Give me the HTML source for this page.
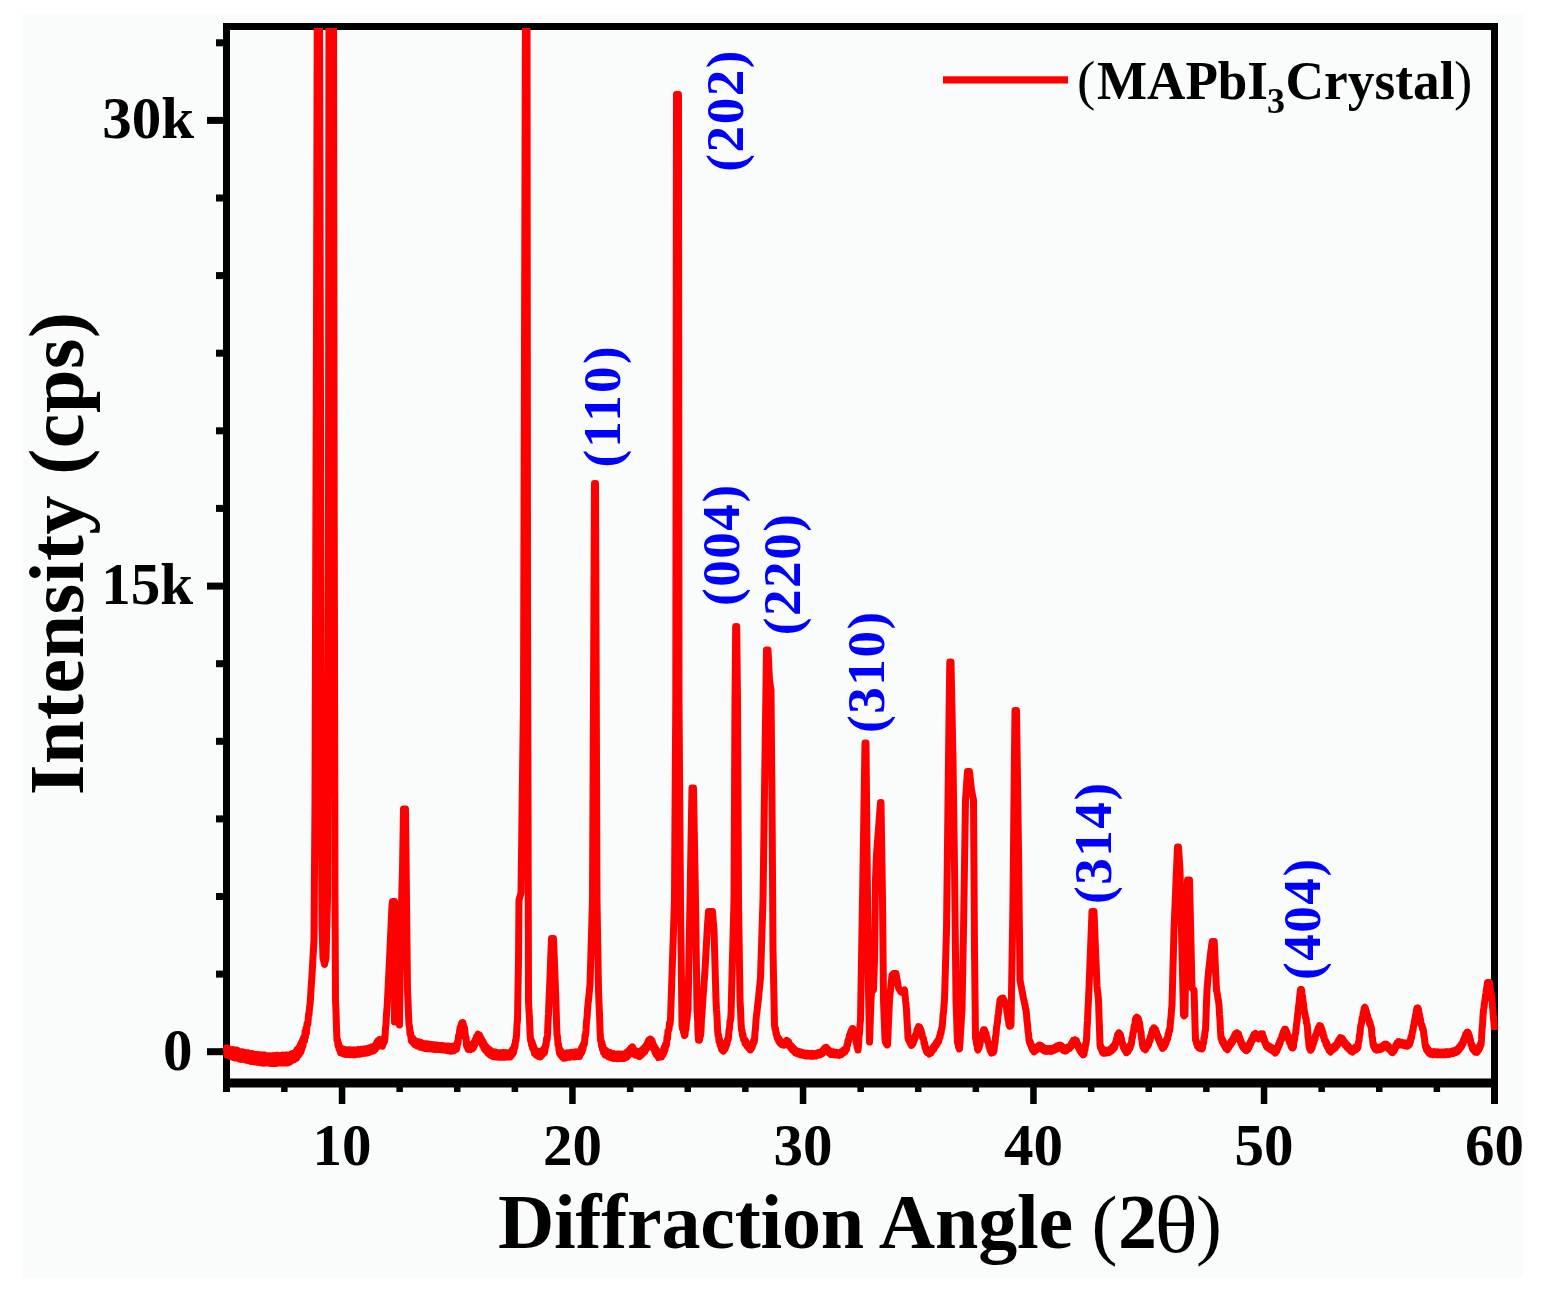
<!DOCTYPE html>
<html><head><meta charset="utf-8"><title>XRD MAPbI3 Crystal</title>
<style>html,body{margin:0;padding:0;background:#fff;overflow:hidden;}svg{display:block;}</style>
</head><body>
<svg width="1544" height="1296" viewBox="0 0 1544 1296"><rect x="0" y="0" width="1544" height="1296" fill="#fff"/>
<rect x="22" y="14" width="1501" height="1264" fill="#fafbfb"/>
<rect x="223" y="23" width="7" height="1069" fill="#000"/>
<rect x="223" y="23" width="1275" height="7" fill="#000"/>
<rect x="1491" y="23" width="7" height="1081" fill="#000"/>
<rect x="223" y="1078.5" width="1275" height="9" fill="#000"/>
<rect x="207" y="1048.2" width="16" height="7" fill="#000"/>
<rect x="216" y="970.6" width="7" height="7" fill="#000"/>
<rect x="216" y="893.0" width="7" height="7" fill="#000"/>
<rect x="216" y="815.4" width="7" height="7" fill="#000"/>
<rect x="216" y="737.8" width="7" height="7" fill="#000"/>
<rect x="216" y="660.2" width="7" height="7" fill="#000"/>
<rect x="207" y="582.6" width="16" height="7" fill="#000"/>
<rect x="216" y="504.9" width="7" height="7" fill="#000"/>
<rect x="216" y="427.3" width="7" height="7" fill="#000"/>
<rect x="216" y="349.7" width="7" height="7" fill="#000"/>
<rect x="216" y="272.1" width="7" height="7" fill="#000"/>
<rect x="216" y="194.5" width="7" height="7" fill="#000"/>
<rect x="207" y="116.9" width="16" height="7" fill="#000"/>
<rect x="216" y="39.3" width="7" height="7" fill="#000"/>
<rect x="223.5" y="1087" width="6.5" height="5" fill="#000"/>
<rect x="281.1" y="1087" width="6.5" height="5" fill="#000"/>
<rect x="338.8" y="1087" width="6.5" height="17" fill="#000"/>
<rect x="396.4" y="1087" width="6.5" height="5" fill="#000"/>
<rect x="454.0" y="1087" width="6.5" height="5" fill="#000"/>
<rect x="511.6" y="1087" width="6.5" height="5" fill="#000"/>
<rect x="569.2" y="1087" width="6.5" height="17" fill="#000"/>
<rect x="626.9" y="1087" width="6.5" height="5" fill="#000"/>
<rect x="684.5" y="1087" width="6.5" height="5" fill="#000"/>
<rect x="742.1" y="1087" width="6.5" height="5" fill="#000"/>
<rect x="799.8" y="1087" width="6.5" height="17" fill="#000"/>
<rect x="857.4" y="1087" width="6.5" height="5" fill="#000"/>
<rect x="915.0" y="1087" width="6.5" height="5" fill="#000"/>
<rect x="972.6" y="1087" width="6.5" height="5" fill="#000"/>
<rect x="1030.2" y="1087" width="6.5" height="17" fill="#000"/>
<rect x="1087.9" y="1087" width="6.5" height="5" fill="#000"/>
<rect x="1145.5" y="1087" width="6.5" height="5" fill="#000"/>
<rect x="1203.1" y="1087" width="6.5" height="5" fill="#000"/>
<rect x="1260.8" y="1087" width="6.5" height="17" fill="#000"/>
<rect x="1318.4" y="1087" width="6.5" height="5" fill="#000"/>
<rect x="1376.0" y="1087" width="6.5" height="5" fill="#000"/>
<rect x="1433.6" y="1087" width="6.5" height="5" fill="#000"/>
<rect x="1491.2" y="1087" width="6.5" height="17" fill="#000"/>
<defs><clipPath id="c"><rect x="0" y="28" width="1544" height="1268"/></clipPath></defs>
<polyline clip-path="url(#c)" points="226.0,1051.5 226.5,1048.1 227.0,1055.1 227.5,1048.1 228.0,1055.3 228.5,1048.5 229.0,1055.8 229.5,1049.2 230.0,1056.2 230.5,1049.5 231.0,1056.4 231.5,1049.7 232.0,1056.3 232.5,1049.6 233.0,1057.4 233.5,1050.2 234.0,1057.0 234.5,1050.0 235.0,1058.0 235.5,1050.3 236.0,1057.7 236.5,1050.1 237.0,1057.6 237.5,1050.5 238.0,1058.2 238.5,1051.5 239.0,1058.2 239.5,1051.6 240.0,1059.2 240.5,1052.0 241.0,1055.5 241.5,1059.4 242.0,1051.9 242.5,1059.3 243.0,1052.1 243.5,1059.2 244.0,1052.8 244.5,1059.5 245.0,1052.4 245.5,1059.9 246.0,1053.0 246.5,1060.3 247.0,1053.0 247.5,1060.2 248.0,1052.8 248.5,1060.8 249.0,1053.6 249.5,1060.8 250.0,1053.5 250.5,1061.4 251.0,1053.5 251.5,1060.9 252.0,1053.4 252.5,1060.9 253.0,1054.2 253.5,1061.8 254.0,1054.6 254.5,1061.7 255.0,1054.9 255.5,1062.1 256.0,1054.4 256.5,1062.2 257.0,1058.5 257.5,1054.5 258.0,1062.0 258.5,1054.7 259.0,1062.4 259.5,1054.9 260.0,1062.3 260.5,1054.7 261.0,1062.9 261.5,1055.2 262.0,1062.7 262.5,1055.7 263.0,1062.8 263.5,1055.1 264.0,1063.2 264.5,1055.0 265.0,1062.5 265.5,1055.5 266.0,1063.0 266.5,1056.0 267.0,1062.8 267.5,1055.9 268.0,1062.5 268.5,1056.1 269.0,1063.3 269.5,1056.0 270.0,1062.8 270.5,1055.8 271.0,1063.5 271.5,1056.2 272.0,1059.5 272.5,1063.1 273.0,1055.7 273.5,1063.5 274.0,1055.4 274.5,1063.5 275.0,1056.0 275.5,1063.0 276.0,1055.8 276.5,1063.4 277.0,1055.2 277.5,1062.6 278.0,1056.0 278.5,1062.7 279.0,1055.9 279.5,1062.9 280.0,1055.5 280.5,1062.7 281.0,1056.1 281.5,1062.8 282.0,1055.6 282.5,1062.9 283.0,1055.0 283.5,1063.0 284.0,1055.4 284.5,1062.9 285.0,1055.2 285.5,1062.3 286.0,1055.0 286.5,1063.0 287.0,1055.0 287.5,1063.0 288.0,1059.0 288.5,1055.2 289.0,1062.1 289.5,1055.1 290.0,1062.0 290.5,1054.7 291.0,1060.9 291.5,1054.1 292.0,1060.6 292.5,1053.6 293.0,1060.1 293.5,1053.5 294.0,1059.7 294.5,1053.0 295.0,1056.0 295.5,1058.9 296.0,1051.6 296.5,1058.3 297.0,1049.8 297.5,1056.3 298.0,1049.0 298.5,1055.3 299.0,1047.7 299.5,1053.9 300.0,1050.0 300.5,1044.7 301.0,1051.7 301.5,1042.7 302.0,1048.6 302.5,1040.6 303.0,1045.7 303.5,1037.9 304.0,1040.0 304.5,1041.1 305.0,1031.9 305.5,1036.7 306.0,1028.4 306.5,1033.1 307.0,1023.9 307.5,1025.0 308.0,1023.4 308.5,1014.6 309.0,1014.8 309.5,1007.2 310.0,1005.0 310.5,998.5 311.0,989.6 311.5,982.5 312.0,975.0 312.5,966.2 313.0,957.5 313.5,948.8 314.0,940.0 314.5,870.0 315.0,800.0 315.6,600.0 316.3,400.0 316.8,200.0 317.3,0.0 317.9,0.0 318.4,0.0 318.9,0.0 319.5,0.0 320.0,200.0 320.5,400.0 321.3,800.0 322.0,925.0 322.5,941.5 323.0,958.0 323.5,960.2 324.0,962.3 324.5,964.5 325.0,962.3 325.5,960.2 326.0,958.0 326.5,938.7 327.0,919.3 327.5,900.0 328.0,700.0 328.5,500.0 329.0,0.0 329.5,0.0 330.0,0.0 330.5,0.0 331.0,0.0 331.5,0.0 332.0,0.0 332.5,0.0 333.0,0.0 333.5,0.0 334.2,500.0 335.0,900.0 335.5,1000.0 336.0,1011.7 336.5,1028.7 337.0,1040.0 337.5,1039.6 338.0,1045.4 338.5,1043.0 339.0,1048.7 339.5,1046.0 340.0,1050.0 340.5,1052.6 341.0,1048.0 341.5,1052.8 342.0,1048.5 342.5,1053.4 343.0,1049.3 343.5,1053.7 344.0,1049.2 344.5,1054.2 345.0,1052.0 345.5,1049.7 346.0,1054.2 346.5,1050.1 347.0,1054.5 347.5,1050.0 348.0,1054.5 348.5,1049.7 349.0,1054.3 349.5,1050.1 350.0,1054.7 350.5,1049.9 351.0,1054.3 351.5,1050.4 352.0,1054.3 352.5,1049.9 353.0,1054.8 353.5,1050.5 354.0,1054.8 354.5,1050.0 355.0,1052.5 355.5,1054.7 356.0,1050.3 356.5,1054.5 357.0,1050.2 357.5,1054.0 358.0,1049.6 358.5,1054.2 359.0,1049.7 359.5,1054.3 360.0,1049.6 360.5,1054.1 361.0,1049.2 361.5,1053.5 362.0,1049.4 362.5,1053.4 363.0,1049.2 363.5,1053.4 364.0,1049.1 364.5,1053.2 365.0,1049.0 365.5,1053.3 366.0,1048.7 366.5,1052.9 367.0,1048.4 367.5,1053.0 368.0,1050.5 368.5,1048.2 369.0,1052.6 369.5,1047.8 370.0,1052.0 370.5,1047.4 371.0,1051.3 371.5,1047.1 372.0,1051.1 372.5,1047.0 373.0,1051.1 373.5,1046.6 374.0,1050.5 374.5,1045.9 375.0,1048.0 375.5,1049.3 376.0,1044.2 376.5,1047.6 377.0,1042.3 377.5,1046.0 378.0,1040.8 378.5,1044.1 379.0,1041.0 379.5,1039.6 380.0,1044.4 380.5,1040.6 381.0,1045.9 381.5,1042.1 382.0,1045.0 382.5,1046.2 383.0,1040.2 383.5,1043.7 384.0,1038.1 384.5,1041.4 385.0,1038.0 385.5,1028.2 386.0,1024.7 386.5,1013.8 387.0,1008.7 387.5,1000.0 388.0,989.8 388.5,980.0 389.0,970.0 389.5,960.0 390.0,949.0 390.5,938.0 391.0,927.0 391.5,916.0 392.0,905.0 392.5,901.5 393.0,901.5 393.5,901.5 394.0,901.5 394.5,901.5 395.0,915.0 394.5,1022.0 395.1,991.1 395.7,960.7 396.3,930.0 397.0,1022.0 397.5,992.7 398.0,964.0 398.5,935.0 399.0,980.0 399.5,1025.0 400.1,977.5 400.8,930.0 401.4,910.0 401.9,890.0 402.5,870.0 403.0,839.5 403.5,809.0 404.0,809.0 404.5,809.0 405.0,809.0 405.5,809.0 406.0,854.5 406.5,900.0 407.0,945.0 407.5,990.0 408.0,1000.9 408.5,1014.9 409.0,1025.0 409.5,1026.2 410.0,1033.7 410.5,1032.3 411.0,1038.0 411.5,1041.0 412.0,1037.3 412.5,1042.0 413.0,1038.3 413.5,1043.2 414.0,1039.8 414.5,1044.4 415.0,1043.0 415.5,1040.8 416.0,1045.2 416.5,1041.2 417.0,1045.8 417.5,1041.9 418.0,1046.0 418.5,1041.8 419.0,1046.4 419.5,1042.4 420.0,1047.0 420.5,1042.3 421.0,1047.3 421.5,1043.0 422.0,1047.1 422.5,1043.4 423.0,1047.8 423.5,1043.5 424.0,1047.7 424.5,1043.7 425.0,1046.0 425.5,1048.5 426.0,1043.7 426.5,1048.2 427.0,1044.2 427.5,1048.7 428.0,1044.1 428.5,1048.7 429.0,1044.5 429.5,1048.4 430.0,1044.2 430.5,1048.7 431.0,1044.7 431.5,1049.1 432.0,1044.4 432.5,1049.1 433.0,1044.9 433.5,1049.3 434.0,1045.0 434.5,1049.4 435.0,1044.8 435.5,1049.1 436.0,1044.9 436.5,1049.6 437.0,1045.2 437.5,1049.2 438.0,1045.1 438.5,1049.4 439.0,1045.5 439.5,1049.4 440.0,1047.5 440.5,1045.7 441.0,1049.6 441.5,1045.6 442.0,1049.8 442.5,1045.5 443.0,1049.9 443.5,1045.7 444.0,1050.0 444.5,1046.0 445.0,1050.0 445.5,1046.2 446.0,1050.1 446.5,1046.0 447.0,1050.6 447.5,1046.4 448.0,1050.7 448.5,1046.1 449.0,1050.6 449.5,1046.3 450.0,1050.9 450.5,1046.6 451.0,1051.3 451.5,1046.8 452.0,1049.0 452.5,1051.0 453.0,1046.3 453.5,1050.9 454.0,1046.1 454.5,1050.4 455.0,1045.5 455.5,1049.9 456.0,1045.3 456.5,1049.3 457.0,1047.0 457.5,1042.1 458.0,1043.0 458.5,1036.1 459.0,1037.3 459.5,1032.0 460.1,1027.5 460.7,1028.8 461.3,1024.5 461.8,1022.8 462.3,1026.6 462.8,1022.4 463.3,1024.5 463.9,1029.1 464.4,1027.5 465.0,1032.0 465.5,1037.8 466.0,1037.4 466.5,1045.4 467.0,1047.0 467.5,1045.0 468.0,1049.2 468.5,1045.0 469.0,1049.5 469.5,1044.5 470.0,1049.2 470.5,1045.0 471.0,1049.5 471.5,1044.9 472.0,1049.1 472.5,1045.1 473.0,1047.0 473.5,1047.9 474.0,1042.5 474.5,1045.7 475.0,1040.3 475.5,1043.4 476.0,1040.0 476.5,1036.8 477.0,1039.4 477.5,1036.0 478.0,1034.1 478.5,1038.1 479.0,1036.0 479.5,1035.1 480.0,1039.9 480.5,1036.9 481.0,1042.0 481.5,1038.8 482.0,1042.0 482.5,1045.1 483.0,1041.4 483.5,1046.9 484.0,1043.2 484.5,1048.8 485.0,1045.1 485.5,1050.2 486.0,1049.0 486.5,1046.9 487.0,1051.8 487.5,1047.9 488.0,1052.9 488.5,1049.2 489.0,1053.9 489.5,1049.5 490.0,1054.6 490.5,1050.4 491.0,1055.5 491.5,1051.6 492.0,1054.0 492.5,1056.3 493.0,1051.9 493.5,1056.6 494.0,1051.9 494.5,1056.7 495.0,1052.1 495.5,1056.9 496.0,1052.2 496.5,1056.9 497.0,1052.6 497.5,1056.6 498.0,1052.8 498.5,1056.9 499.0,1052.9 499.5,1057.3 500.0,1055.0 500.5,1052.8 501.0,1057.3 501.5,1052.7 502.0,1057.3 502.5,1052.8 503.0,1056.9 503.5,1052.6 504.0,1057.3 504.5,1052.8 505.0,1057.2 505.5,1052.7 506.0,1056.9 506.5,1052.7 507.0,1057.0 507.5,1053.1 508.0,1057.0 508.5,1052.7 509.0,1057.0 509.5,1052.7 510.0,1055.0 510.5,1056.9 511.0,1051.6 511.5,1055.2 512.0,1050.3 512.5,1054.2 513.0,1048.9 513.5,1052.9 514.0,1050.0 514.5,1045.2 515.0,1046.9 515.5,1040.5 516.0,1040.0 516.5,1035.4 517.0,1024.5 517.5,1020.0 518.0,990.2 518.5,960.0 519.0,900.0 519.5,898.2 520.0,896.5 520.5,894.8 521.0,893.0 521.5,854.4 522.0,815.8 522.5,777.2 523.0,738.6 523.5,700.0 524.0,525.0 524.5,350.0 525.0,175.0 525.5,0.0 526.0,0.0 526.5,0.0 527.0,0.0 527.5,600.0 528.0,800.0 528.5,1000.0 529.0,1011.1 529.5,1018.1 530.0,1032.5 530.5,1040.0 531.0,1039.4 531.5,1044.8 532.0,1041.6 532.5,1047.8 533.0,1044.5 533.5,1050.0 534.0,1047.3 534.5,1053.1 535.0,1052.0 535.5,1050.3 536.0,1054.8 536.5,1050.9 537.0,1055.4 537.5,1051.0 538.0,1055.8 538.5,1051.7 539.0,1056.6 539.5,1052.3 540.0,1055.0 540.5,1056.8 541.0,1052.0 541.5,1055.9 542.0,1050.8 542.5,1054.4 543.0,1050.1 543.5,1053.7 544.0,1048.8 544.5,1052.6 545.0,1050.0 545.5,1045.0 546.0,1046.1 546.5,1038.9 547.0,1040.4 547.5,1035.0 548.0,1022.1 548.5,1013.9 549.0,1000.4 549.5,990.0 550.0,977.1 550.5,964.2 551.0,951.4 551.5,938.5 552.0,938.5 552.5,938.5 553.0,938.5 553.5,938.5 554.0,951.4 554.5,964.2 555.0,977.1 555.5,990.0 556.0,1004.1 556.5,1021.7 557.0,1035.0 557.5,1036.7 558.0,1044.4 558.5,1044.3 559.0,1050.0 559.5,1053.1 560.0,1049.4 560.5,1054.7 561.0,1051.0 561.5,1055.8 562.0,1052.3 562.5,1057.2 563.0,1056.0 563.5,1053.8 564.0,1058.3 564.5,1053.4 565.0,1058.1 565.5,1053.4 566.0,1058.0 566.5,1053.0 567.0,1057.6 567.5,1053.0 568.0,1057.2 568.5,1052.9 569.0,1057.3 569.5,1052.7 570.0,1055.0 570.5,1057.2 571.0,1052.8 571.5,1056.8 572.0,1052.3 572.5,1056.7 573.0,1052.5 573.5,1056.7 574.0,1052.5 574.5,1056.9 575.0,1052.0 575.5,1056.5 576.0,1052.1 576.5,1056.4 577.0,1052.1 577.5,1056.4 578.0,1052.2 578.5,1056.1 579.0,1052.1 579.5,1056.5 580.0,1054.0 580.5,1050.7 581.0,1053.8 581.5,1048.2 582.0,1052.0 582.5,1046.2 583.0,1049.2 583.5,1044.1 584.0,1045.0 584.5,1043.2 585.0,1035.4 585.5,1035.7 586.0,1030.0 586.5,1021.6 587.0,1018.1 587.5,1010.0 588.0,1004.0 588.5,1000.0 589.0,995.5 589.5,989.7 590.0,985.0 590.5,968.0 591.0,951.0 591.5,934.0 592.0,917.0 592.5,900.0 593.0,795.9 593.5,691.8 594.0,587.6 594.5,483.5 595.0,483.5 595.5,483.5 596.0,622.3 596.5,761.2 597.0,900.0 597.5,930.0 598.0,960.0 598.5,990.0 599.0,1003.3 599.5,1013.6 600.0,1029.4 600.5,1040.0 601.0,1039.6 601.5,1045.6 602.0,1042.7 602.5,1049.3 603.0,1046.2 603.5,1052.2 604.0,1052.0 604.5,1050.4 605.0,1054.8 605.5,1050.3 606.0,1055.2 606.5,1051.0 607.0,1055.4 607.5,1051.6 608.0,1056.5 608.5,1051.9 609.0,1056.9 609.5,1052.3 610.0,1057.0 610.5,1053.3 611.0,1057.5 611.5,1053.5 612.0,1056.0 612.5,1058.3 613.0,1053.6 613.5,1058.4 614.0,1053.8 614.5,1058.4 615.0,1054.0 615.5,1058.4 616.0,1054.3 616.5,1058.5 617.0,1054.2 617.5,1058.7 618.0,1054.0 618.5,1058.3 619.0,1054.3 619.5,1058.3 620.0,1054.0 620.5,1058.6 621.0,1054.4 621.5,1058.3 622.0,1054.2 622.5,1058.6 623.0,1054.3 623.5,1058.5 624.0,1054.2 624.5,1058.4 625.0,1056.5 625.5,1054.0 626.0,1057.8 626.5,1052.7 627.0,1057.0 627.5,1051.8 628.0,1056.0 628.5,1051.3 629.0,1054.9 629.5,1050.0 630.0,1052.0 630.5,1053.3 631.0,1047.9 631.5,1050.9 632.0,1048.0 632.5,1046.8 633.0,1052.3 633.5,1048.9 634.0,1052.0 634.5,1054.2 635.0,1050.1 635.5,1055.1 636.0,1050.8 636.5,1054.9 637.0,1051.2 637.5,1055.6 638.0,1051.4 638.5,1055.9 639.0,1051.7 639.5,1056.6 640.0,1054.5 640.5,1051.8 641.0,1055.4 641.5,1050.4 642.0,1054.4 642.5,1049.4 643.0,1053.3 643.5,1048.7 644.0,1052.5 644.5,1047.6 645.0,1051.6 645.5,1046.4 646.0,1048.0 646.5,1049.0 647.0,1044.0 647.5,1047.1 648.0,1041.7 648.5,1045.5 649.0,1040.0 649.5,1041.0 650.0,1043.1 650.5,1039.0 651.0,1043.5 651.5,1041.0 652.0,1040.4 652.5,1045.7 653.0,1043.3 653.5,1048.7 654.0,1048.0 654.5,1046.4 655.0,1052.2 655.5,1048.3 656.0,1054.0 656.5,1049.9 657.0,1055.3 657.5,1052.1 658.0,1055.0 658.5,1057.5 659.0,1052.7 659.5,1056.9 660.0,1052.7 660.5,1057.1 661.0,1052.9 661.5,1057.1 662.0,1055.0 662.5,1051.9 663.0,1054.6 663.5,1049.6 664.0,1052.6 664.5,1046.9 665.0,1050.2 665.5,1044.6 666.0,1046.0 666.5,1044.8 667.0,1037.5 667.5,1038.8 668.0,1030.8 668.5,1030.0 669.0,1029.5 669.5,1023.3 670.0,1024.3 670.5,1020.0 671.0,1004.1 671.5,990.3 672.0,975.0 672.5,960.0 673.0,945.0 673.5,930.0 674.0,915.0 674.5,900.0 675.1,800.0 675.8,700.0 676.5,94.5 677.0,94.5 677.5,94.5 678.0,94.5 678.5,94.5 679.0,700.0 679.5,766.7 680.0,833.3 680.5,900.0 681.0,941.7 681.5,983.3 682.0,1025.0 682.5,1028.9 683.0,1026.3 683.5,1032.0 684.0,1029.2 684.5,1035.6 685.0,1035.0 685.5,1028.8 686.0,1028.8 686.5,1020.8 687.0,1019.8 687.5,1012.9 688.0,1010.0 688.5,982.5 689.0,955.0 689.5,927.5 690.0,900.0 690.5,872.0 691.0,844.0 691.5,816.0 692.0,788.0 692.5,788.0 693.0,788.0 693.5,788.0 694.0,816.0 694.5,844.0 695.0,872.0 695.5,900.0 696.0,936.7 696.5,973.3 697.0,1010.0 697.5,1018.1 698.0,1032.0 698.5,1040.0 699.0,1036.6 699.5,1040.3 700.0,1034.6 700.5,1036.0 701.0,1030.5 701.5,1018.7 702.0,1014.0 702.5,1005.0 703.0,997.4 703.5,991.3 704.0,984.0 704.5,977.0 705.0,970.0 705.5,961.0 706.0,952.0 706.5,943.0 707.0,934.0 707.5,925.0 708.0,918.2 708.5,911.5 709.0,911.5 709.5,911.5 710.0,911.5 710.5,911.5 711.0,911.5 711.5,911.5 712.0,911.5 712.5,911.5 713.0,917.7 713.5,923.8 714.0,930.0 714.5,947.5 715.0,965.0 715.5,982.5 716.0,1000.0 716.5,1009.8 717.0,1016.1 717.5,1028.1 718.0,1035.0 718.5,1034.9 719.0,1041.1 719.5,1039.0 720.0,1044.7 720.5,1042.9 721.0,1047.0 721.5,1049.3 722.0,1046.1 722.5,1050.3 723.0,1047.0 723.5,1051.2 724.0,1050.0 724.5,1047.1 725.0,1049.2 725.5,1044.6 726.0,1047.0 726.5,1041.9 727.0,1044.2 727.5,1039.5 728.0,1040.0 728.5,1037.9 729.0,1029.9 729.5,1029.0 730.0,1021.7 730.5,1020.5 731.0,1015.0 731.5,995.4 732.0,976.7 732.5,957.5 733.0,938.3 733.5,919.2 734.0,900.0 734.5,800.0 735.0,700.0 735.7,626.5 736.2,626.5 736.7,626.5 737.5,700.0 738.0,800.0 738.5,900.0 739.0,933.3 739.5,966.7 740.0,1000.0 740.5,1009.0 741.0,1021.3 741.5,1030.0 742.0,1030.2 742.5,1035.5 743.0,1034.3 743.5,1039.5 744.0,1040.0 744.5,1039.3 745.0,1043.2 745.5,1040.5 746.0,1044.3 746.5,1042.2 747.0,1046.1 747.5,1043.9 748.0,1046.0 748.5,1047.9 749.0,1045.7 749.5,1048.8 750.0,1046.6 750.5,1050.0 751.0,1049.0 751.5,1046.2 752.0,1047.7 752.5,1043.9 753.0,1045.2 753.5,1041.1 754.0,1042.6 754.5,1040.0 755.0,1032.4 755.5,1028.7 756.0,1020.1 756.5,1015.0 757.0,1011.8 757.5,1006.4 758.0,1003.0 758.5,998.3 759.0,992.8 759.5,988.1 760.0,983.0 760.5,978.0 761.0,962.4 761.5,946.8 762.0,931.2 762.5,915.6 763.0,900.0 763.5,864.3 764.0,828.6 764.5,792.9 765.0,757.1 765.5,721.4 766.0,685.7 766.5,650.0 767.0,650.0 767.5,650.0 768.0,650.0 768.5,660.0 769.0,670.0 769.5,680.0 770.0,683.3 770.5,686.7 771.0,690.0 771.5,745.0 772.0,800.0 772.5,875.0 773.0,950.0 773.5,975.0 774.0,999.6 774.5,1025.0 775.0,1028.7 775.5,1028.5 776.0,1033.7 776.5,1033.3 777.0,1037.0 777.5,1038.9 778.0,1037.4 778.5,1040.6 779.0,1038.6 779.5,1042.2 780.0,1040.3 780.5,1043.6 781.0,1043.0 781.5,1041.9 782.0,1044.6 782.5,1042.2 783.0,1044.7 783.5,1042.3 784.0,1045.2 784.5,1042.7 785.0,1044.0 785.5,1044.7 786.0,1041.4 786.5,1043.7 787.0,1040.4 787.5,1041.0 788.0,1043.2 788.5,1041.5 789.0,1045.5 789.5,1043.7 790.0,1046.0 790.5,1047.6 791.0,1045.5 791.5,1048.8 792.0,1046.5 792.5,1049.9 793.0,1047.6 793.5,1050.7 794.0,1048.6 794.5,1051.7 795.0,1049.7 795.5,1052.9 796.0,1052.0 796.5,1050.7 797.0,1053.5 797.5,1051.2 798.0,1053.8 798.5,1051.4 799.0,1054.1 799.5,1051.8 800.0,1054.3 800.5,1051.9 801.0,1054.9 801.5,1052.4 802.0,1055.0 802.5,1052.4 803.0,1055.1 803.5,1052.6 804.0,1055.4 804.5,1053.0 805.0,1054.5 805.5,1055.9 806.0,1053.2 806.5,1055.8 807.0,1053.3 807.5,1056.0 808.0,1053.4 808.5,1056.0 809.0,1053.4 809.5,1056.0 810.0,1053.6 810.5,1056.1 811.0,1053.5 811.5,1056.0 812.0,1053.4 812.5,1056.3 813.0,1053.6 813.5,1056.1 814.0,1053.6 814.5,1056.1 815.0,1055.0 815.5,1053.7 816.0,1056.0 816.5,1053.4 817.0,1055.7 817.5,1053.0 818.0,1055.3 818.5,1052.6 819.0,1055.0 819.5,1052.3 820.0,1055.0 820.5,1052.1 821.0,1054.4 821.5,1051.8 822.0,1053.0 822.5,1053.6 823.0,1050.3 823.5,1052.3 824.0,1049.1 824.5,1051.4 825.0,1047.9 825.5,1050.1 826.0,1048.0 826.5,1047.4 827.0,1050.7 827.5,1048.6 828.0,1052.0 828.5,1049.7 829.0,1052.9 829.5,1051.0 830.0,1053.0 830.5,1054.5 831.0,1052.0 831.5,1054.4 832.0,1051.8 832.5,1054.4 833.0,1051.8 833.5,1054.6 834.0,1052.0 834.5,1054.6 835.0,1052.2 835.5,1055.0 836.0,1052.4 836.5,1054.9 837.0,1052.4 837.5,1055.0 838.0,1052.7 838.5,1055.0 839.0,1052.7 839.5,1055.4 840.0,1054.0 840.5,1052.3 841.0,1054.8 841.5,1051.8 842.0,1054.1 842.5,1051.2 843.0,1053.3 843.5,1050.3 844.0,1052.6 844.5,1049.5 845.0,1052.0 845.5,1049.0 846.0,1050.0 846.5,1049.5 847.0,1044.8 847.5,1045.5 848.0,1040.6 848.5,1041.3 849.0,1038.0 849.5,1035.2 850.0,1036.5 850.5,1032.4 851.0,1033.9 851.5,1030.0 852.0,1031.3 852.5,1028.5 853.0,1028.7 853.5,1032.7 854.0,1031.6 854.5,1035.6 855.0,1036.0 855.5,1036.9 856.0,1041.9 856.5,1041.6 857.0,1046.8 857.5,1046.3 858.0,1050.0 858.5,1045.4 859.0,1036.8 859.5,1033.1 860.0,1025.0 860.5,1020.0 861.0,990.1 861.5,960.0 862.0,930.0 862.5,900.0 863.0,868.6 863.5,837.2 864.0,805.8 864.5,774.4 865.0,743.0 865.5,743.0 866.0,743.0 866.5,795.3 867.0,847.7 867.5,900.0 868.0,945.0 868.5,990.0 869.0,1015.2 869.5,1042.0 870.0,1029.2 870.5,1013.2 871.0,1000.0 871.5,993.2 872.0,986.0 872.5,987.3 873.0,988.8 873.5,990.0 874.0,975.0 874.5,960.0 875.0,920.0 875.5,880.0 876.0,867.5 876.5,855.0 877.0,848.4 877.5,841.9 878.0,835.3 878.5,828.8 879.0,822.2 879.5,815.6 880.0,809.1 880.5,802.5 881.0,802.5 881.5,835.0 882.0,867.5 882.5,900.0 883.0,950.0 883.5,1000.0 884.0,1014.2 884.5,1025.4 885.0,1040.0 885.5,1042.3 886.0,1040.6 886.5,1044.3 887.0,1042.5 887.5,1045.0 888.0,1035.2 888.5,1021.5 889.0,1012.1 889.5,1000.0 890.0,994.7 890.5,990.1 891.0,985.0 891.5,980.0 892.0,975.0 892.5,974.5 893.0,974.0 893.5,973.5 894.0,973.5 894.5,973.5 895.0,973.5 895.5,973.5 896.0,973.5 896.5,976.4 897.0,979.3 897.5,982.2 898.0,985.1 898.5,988.0 899.0,988.7 899.5,989.7 900.0,990.3 900.5,991.4 901.0,992.0 901.5,991.5 902.0,991.6 902.5,990.9 903.0,991.0 903.5,990.4 904.0,990.5 904.5,990.0 905.0,994.7 905.5,1000.4 906.0,1004.4 906.5,1010.0 907.0,1020.3 907.5,1027.5 908.0,1038.0 908.5,1040.0 909.0,1038.5 909.5,1041.8 910.0,1040.2 910.5,1043.8 911.0,1041.9 911.5,1045.6 912.0,1045.0 912.5,1042.4 913.0,1043.7 913.5,1039.9 914.0,1041.3 914.5,1037.3 915.0,1038.8 915.5,1035.0 916.0,1035.0 916.5,1034.6 917.0,1030.0 917.5,1030.9 918.0,1028.0 918.5,1026.6 919.0,1029.1 919.5,1026.8 920.0,1028.0 920.5,1030.9 921.0,1029.9 921.5,1034.5 922.0,1033.3 922.5,1037.6 923.0,1038.0 923.5,1038.5 924.0,1043.2 924.5,1042.8 925.0,1047.5 925.5,1046.6 926.0,1050.0 926.5,1051.8 927.0,1049.4 927.5,1052.6 928.0,1050.2 928.5,1053.3 929.0,1050.9 929.5,1054.1 930.0,1053.0 930.5,1051.0 931.0,1053.0 931.5,1049.6 932.0,1051.4 932.5,1048.3 933.0,1050.2 933.5,1046.9 934.0,1048.9 934.5,1045.5 935.0,1046.0 935.5,1046.4 936.0,1043.3 936.5,1045.2 937.0,1041.7 937.5,1043.4 938.0,1040.4 938.5,1041.9 939.0,1040.0 939.5,1036.6 940.0,1037.4 940.5,1032.6 941.0,1033.4 941.5,1028.9 942.0,1028.0 942.5,1023.5 943.0,1015.9 943.5,1012.0 944.0,1004.9 944.5,1000.0 945.0,982.5 945.5,965.0 946.0,947.5 946.5,930.0 947.0,887.5 947.5,845.0 948.0,802.5 948.5,760.0 949.1,711.0 949.8,662.0 950.4,662.0 951.0,662.0 951.5,686.5 952.0,711.0 952.5,735.5 953.0,760.0 953.5,795.3 954.0,830.7 954.5,866.0 955.0,910.7 955.5,955.3 956.0,1000.0 956.5,1013.6 957.0,1029.8 957.5,1043.0 958.0,1043.1 958.5,1047.2 959.0,1046.3 959.5,1049.0 960.0,1042.5 960.5,1032.3 961.0,1026.7 961.5,1016.9 962.0,1010.0 962.5,983.3 963.0,956.7 963.5,930.0 964.0,897.5 964.5,865.0 965.0,832.5 965.5,800.0 966.0,792.9 966.5,785.8 967.0,778.6 967.5,771.5 968.0,771.5 968.5,771.5 969.0,771.5 969.5,771.5 970.0,776.1 970.5,780.8 971.0,785.4 971.5,790.0 972.0,792.5 972.5,795.0 973.0,797.5 973.5,800.0 974.0,875.0 974.5,950.0 975.0,994.2 975.5,1038.0 976.0,1039.3 976.5,1044.0 977.0,1043.8 977.5,1049.1 978.0,1050.0 978.5,1047.2 979.0,1048.0 979.5,1043.7 980.0,1044.8 980.5,1040.5 981.0,1040.0 981.5,1039.1 982.0,1034.2 982.5,1034.7 983.0,1031.0 983.5,1029.8 984.0,1032.5 984.5,1029.8 985.0,1031.0 985.5,1034.0 986.0,1033.3 986.5,1037.8 987.0,1037.2 987.5,1041.5 988.0,1042.0 988.5,1042.5 989.0,1046.8 989.5,1045.6 990.0,1050.1 990.5,1049.0 991.0,1052.0 991.5,1053.1 992.0,1050.4 992.5,1052.8 993.0,1049.9 993.5,1052.3 994.0,1051.0 994.5,1045.2 995.0,1043.5 995.5,1036.8 996.0,1034.9 996.5,1027.9 997.0,1025.0 997.5,1021.9 998.0,1015.8 998.5,1013.4 999.0,1007.7 999.5,1004.7 1000.0,1000.0 1000.5,999.2 1001.0,999.8 1001.5,998.6 1002.0,999.1 1002.5,998.0 1003.0,998.0 1003.5,999.6 1004.0,999.9 1004.5,1002.0 1005.0,1002.1 1005.5,1004.4 1006.0,1005.0 1006.5,1007.7 1007.0,1012.4 1007.5,1014.1 1008.0,1019.3 1008.5,1020.7 1009.0,1025.0 1009.5,1026.2 1010.0,1023.7 1010.5,1026.1 1011.0,1025.0 1011.5,993.5 1012.0,962.5 1012.5,931.2 1013.0,900.0 1013.6,840.0 1014.2,780.0 1015.0,710.5 1015.5,710.5 1016.0,710.5 1016.5,710.5 1017.0,745.2 1017.5,780.0 1018.0,815.0 1018.5,850.0 1019.0,893.3 1019.5,936.7 1020.0,980.0 1020.5,982.7 1021.0,985.3 1021.5,987.9 1022.0,990.8 1022.5,993.1 1023.0,996.0 1023.5,998.8 1024.0,1000.3 1024.5,1003.5 1025.0,1004.7 1025.5,1008.4 1026.0,1010.0 1026.5,1014.1 1027.0,1021.0 1027.5,1023.9 1028.0,1031.4 1028.5,1033.8 1029.0,1040.0 1029.5,1042.4 1030.0,1041.2 1030.5,1044.8 1031.0,1043.6 1031.5,1047.5 1032.0,1045.9 1032.5,1049.9 1033.0,1048.4 1033.5,1051.0 1034.0,1051.9 1034.5,1049.1 1035.0,1051.2 1035.5,1048.2 1036.0,1050.5 1036.5,1047.2 1037.0,1049.6 1037.5,1046.6 1038.0,1048.9 1038.5,1045.9 1039.0,1048.0 1039.5,1045.0 1040.0,1046.0 1040.5,1047.9 1041.0,1045.4 1041.5,1048.6 1042.0,1046.2 1042.5,1049.4 1043.0,1047.0 1043.5,1050.1 1044.0,1048.0 1044.5,1051.0 1045.0,1050.0 1045.5,1048.8 1046.0,1051.3 1046.5,1048.6 1047.0,1051.4 1047.5,1048.6 1048.0,1051.2 1048.5,1048.7 1049.0,1051.3 1049.5,1048.6 1050.0,1051.3 1050.5,1048.6 1051.0,1051.5 1051.5,1048.8 1052.0,1050.0 1052.5,1051.1 1053.0,1048.1 1053.5,1050.5 1054.0,1047.7 1054.5,1050.2 1055.0,1047.4 1055.5,1049.6 1056.0,1046.8 1056.5,1049.2 1057.0,1046.0 1057.5,1048.6 1058.0,1045.8 1058.5,1048.1 1059.0,1045.2 1059.5,1047.6 1060.0,1046.0 1060.5,1045.1 1061.0,1048.2 1061.5,1045.8 1062.0,1048.9 1062.5,1046.7 1063.0,1049.9 1063.5,1047.6 1064.0,1050.6 1064.5,1048.3 1065.0,1050.0 1065.5,1051.1 1066.0,1048.2 1066.5,1050.6 1067.0,1047.5 1067.5,1049.6 1068.0,1047.0 1068.5,1049.2 1069.0,1046.5 1069.5,1048.6 1070.0,1047.0 1070.5,1045.0 1071.0,1046.9 1071.5,1043.5 1072.0,1045.2 1072.5,1042.0 1073.0,1043.9 1073.5,1040.3 1074.0,1041.0 1074.5,1042.3 1075.0,1039.8 1075.5,1042.4 1076.0,1041.0 1076.5,1040.9 1077.0,1044.5 1077.5,1043.2 1078.0,1046.9 1078.5,1045.2 1079.0,1049.1 1079.5,1047.6 1080.0,1050.0 1080.5,1051.8 1081.0,1049.8 1081.5,1053.0 1082.0,1050.7 1082.5,1053.9 1083.0,1051.6 1083.5,1054.9 1084.0,1054.0 1084.5,1049.9 1085.0,1049.6 1085.5,1044.3 1086.0,1044.0 1086.5,1040.0 1087.0,1028.6 1087.5,1021.0 1088.0,1009.2 1088.5,1000.0 1089.0,987.6 1089.5,975.0 1090.0,962.5 1090.5,950.0 1091.0,937.2 1091.5,924.3 1092.0,911.5 1092.5,911.5 1093.0,911.5 1093.5,911.5 1094.0,911.5 1094.5,924.3 1095.0,937.2 1095.5,950.0 1096.0,962.0 1096.5,974.0 1097.0,986.0 1097.5,990.8 1098.0,995.0 1098.5,1000.0 1099.0,1015.8 1099.5,1028.5 1100.0,1045.0 1100.5,1047.6 1101.0,1046.2 1101.5,1049.9 1102.0,1048.2 1102.5,1052.3 1103.0,1052.0 1103.5,1050.8 1104.0,1053.3 1104.5,1050.4 1105.0,1052.8 1105.5,1050.5 1106.0,1053.1 1106.5,1050.1 1107.0,1052.6 1107.5,1050.2 1108.0,1052.5 1108.5,1050.0 1109.0,1052.6 1109.5,1049.8 1110.0,1051.0 1110.5,1051.7 1111.0,1048.5 1111.5,1050.9 1112.0,1047.8 1112.5,1050.0 1113.0,1046.6 1113.5,1048.9 1114.0,1045.6 1114.5,1048.0 1115.0,1046.0 1115.5,1042.6 1116.0,1043.4 1116.5,1038.8 1117.0,1039.4 1117.5,1034.7 1118.0,1034.0 1118.5,1035.4 1119.0,1032.7 1119.5,1035.5 1120.0,1034.0 1120.5,1034.7 1121.0,1039.2 1121.5,1038.8 1122.0,1043.2 1122.5,1042.7 1123.0,1046.0 1123.5,1047.9 1124.0,1046.2 1124.5,1049.4 1125.0,1047.7 1125.5,1051.1 1126.0,1049.2 1126.5,1052.7 1127.0,1052.0 1127.5,1050.0 1128.0,1051.7 1128.5,1048.1 1129.0,1049.8 1129.5,1046.3 1130.0,1048.2 1130.5,1044.6 1131.0,1045.0 1131.5,1043.4 1132.0,1037.8 1132.5,1037.6 1133.0,1032.2 1133.5,1032.1 1134.0,1026.8 1134.5,1025.0 1135.0,1023.8 1135.5,1019.2 1136.0,1018.0 1136.5,1019.1 1137.0,1017.1 1137.5,1019.1 1138.0,1018.0 1138.5,1019.0 1139.0,1023.1 1139.5,1022.7 1140.0,1026.0 1140.5,1030.9 1141.0,1032.2 1141.5,1038.8 1142.0,1039.9 1142.5,1045.0 1143.0,1047.2 1143.5,1045.3 1144.0,1048.7 1144.5,1046.9 1145.0,1049.0 1145.5,1049.7 1146.0,1046.3 1146.5,1048.0 1147.0,1044.7 1147.5,1046.6 1148.0,1043.1 1148.5,1045.0 1149.0,1043.0 1149.5,1039.8 1150.0,1040.8 1150.5,1036.4 1151.0,1037.2 1151.5,1032.9 1152.0,1034.0 1152.5,1029.4 1153.0,1029.0 1153.5,1030.4 1154.0,1027.8 1154.5,1030.2 1155.0,1029.0 1155.5,1029.1 1156.0,1033.1 1156.5,1031.8 1157.0,1035.9 1157.5,1034.7 1158.0,1038.6 1158.5,1037.2 1159.0,1040.0 1159.5,1042.3 1160.0,1040.9 1160.5,1044.2 1161.0,1042.9 1161.5,1046.2 1162.0,1044.5 1162.5,1048.4 1163.0,1048.0 1163.5,1045.6 1164.0,1047.4 1164.5,1043.5 1165.0,1045.4 1165.5,1041.6 1166.0,1043.4 1166.5,1039.6 1167.0,1040.0 1167.5,1039.3 1168.0,1034.6 1168.5,1035.2 1169.0,1030.6 1169.5,1031.3 1170.0,1028.0 1170.5,1021.1 1171.0,1017.3 1171.5,1010.1 1172.0,1005.0 1172.5,986.3 1173.0,967.5 1173.5,948.8 1174.0,930.0 1174.5,918.0 1175.0,906.0 1175.5,894.0 1176.0,882.0 1176.5,870.0 1177.0,858.5 1177.5,847.0 1178.0,847.0 1178.5,847.0 1179.0,854.7 1179.5,862.3 1180.0,870.0 1180.5,890.0 1181.0,910.0 1181.5,930.0 1182.0,951.2 1182.5,972.5 1183.0,993.5 1183.5,1015.0 1184.0,1015.9 1184.5,1014.2 1185.0,1015.0 1185.5,972.5 1186.0,930.0 1186.5,913.3 1187.0,896.7 1187.5,880.0 1188.0,880.0 1188.5,880.0 1189.0,880.0 1189.5,880.0 1190.0,901.6 1190.5,923.2 1191.0,944.8 1191.5,966.4 1192.0,988.0 1192.5,988.6 1193.0,988.9 1193.5,989.6 1194.0,990.0 1194.5,1006.0 1195.0,1024.4 1195.5,1040.0 1196.0,1040.0 1196.5,1043.5 1197.0,1042.5 1197.5,1046.2 1198.0,1046.0 1198.5,1045.1 1199.0,1047.9 1199.5,1045.5 1200.0,1048.3 1200.5,1045.9 1201.0,1048.5 1201.5,1046.2 1202.0,1049.0 1202.5,1048.0 1203.0,1043.6 1203.5,1043.2 1204.0,1037.9 1204.5,1037.4 1205.0,1031.6 1205.5,1030.0 1206.0,1017.7 1206.5,1002.8 1207.0,990.0 1207.5,984.0 1208.0,978.0 1208.5,972.0 1209.0,967.6 1209.5,963.2 1210.0,958.8 1210.5,954.4 1211.0,950.0 1211.6,945.8 1212.2,941.5 1212.7,941.5 1213.2,941.5 1213.7,941.5 1214.2,941.5 1214.8,953.6 1215.3,965.8 1215.9,977.9 1216.5,990.0 1217.0,992.3 1217.5,995.0 1218.0,998.7 1218.5,1001.2 1219.0,1005.0 1219.5,1014.2 1220.0,1020.4 1220.5,1030.9 1221.0,1038.0 1221.5,1037.7 1222.0,1041.2 1222.5,1039.5 1223.0,1043.0 1223.5,1041.4 1224.0,1044.9 1224.5,1043.2 1225.0,1046.7 1225.5,1044.9 1226.0,1048.4 1226.5,1046.8 1227.0,1049.0 1227.5,1049.7 1228.0,1046.0 1228.5,1048.2 1229.0,1044.7 1229.5,1046.5 1230.0,1043.4 1230.5,1045.2 1231.0,1041.6 1231.5,1043.7 1232.0,1040.3 1232.5,1042.1 1233.0,1040.0 1233.5,1037.5 1234.0,1039.4 1234.5,1035.6 1235.0,1037.2 1235.5,1033.7 1236.0,1034.0 1236.5,1035.5 1237.0,1032.7 1237.5,1035.4 1238.0,1034.0 1238.5,1034.0 1239.0,1038.2 1239.5,1036.7 1240.0,1040.7 1240.5,1039.7 1241.0,1043.5 1241.5,1042.3 1242.0,1045.0 1242.5,1046.8 1243.0,1044.6 1243.5,1048.0 1244.0,1045.9 1244.5,1048.9 1245.0,1046.6 1245.5,1050.0 1246.0,1047.7 1246.5,1050.7 1247.0,1050.0 1247.5,1047.6 1248.0,1049.4 1248.5,1045.6 1249.0,1047.5 1249.5,1043.7 1250.0,1045.2 1250.5,1041.7 1251.0,1043.4 1251.5,1039.8 1252.0,1040.0 1252.5,1040.4 1253.0,1036.5 1253.5,1038.2 1254.0,1034.6 1254.5,1036.4 1255.0,1034.0 1255.5,1033.4 1256.0,1036.5 1256.5,1034.8 1257.0,1038.1 1257.5,1035.9 1258.0,1038.0 1258.5,1038.8 1259.0,1035.8 1259.5,1037.9 1260.0,1034.6 1260.5,1036.7 1261.0,1033.7 1261.5,1036.0 1262.0,1034.0 1262.5,1033.9 1263.0,1038.1 1263.5,1036.8 1264.0,1040.8 1264.5,1039.7 1265.0,1043.4 1265.5,1042.4 1266.0,1045.0 1266.5,1046.7 1267.0,1044.4 1267.5,1047.4 1268.0,1045.1 1268.5,1048.1 1269.0,1045.9 1269.5,1048.6 1270.0,1046.3 1270.5,1049.4 1271.0,1047.3 1271.5,1050.2 1272.0,1047.8 1272.5,1050.7 1273.0,1048.6 1273.5,1051.5 1274.0,1049.3 1274.5,1052.1 1275.0,1050.2 1275.5,1053.1 1276.0,1052.0 1276.5,1049.4 1277.0,1050.9 1277.5,1047.1 1278.0,1048.4 1278.5,1044.6 1279.0,1046.1 1279.5,1042.1 1280.0,1043.8 1280.5,1039.8 1281.0,1040.0 1281.5,1039.9 1282.0,1035.6 1282.5,1036.4 1283.0,1032.5 1283.5,1033.3 1284.0,1030.5 1284.5,1029.3 1285.0,1031.6 1285.5,1029.2 1286.0,1030.5 1286.5,1033.5 1287.0,1032.3 1287.5,1036.7 1288.0,1035.3 1288.5,1039.5 1289.0,1038.5 1289.5,1042.7 1290.0,1043.0 1290.5,1042.7 1291.0,1046.2 1291.5,1044.3 1292.0,1047.7 1292.5,1045.8 1293.0,1048.0 1293.5,1046.5 1294.0,1040.6 1294.5,1040.3 1295.0,1034.7 1295.5,1034.2 1296.0,1030.0 1296.5,1024.2 1297.0,1022.2 1297.5,1015.7 1298.0,1012.7 1298.5,1006.9 1299.0,1003.5 1299.5,998.1 1300.0,994.3 1300.5,989.5 1301.0,989.4 1301.5,989.5 1302.0,993.5 1302.5,996.6 1303.0,1001.2 1303.5,1003.9 1304.0,1009.0 1304.5,1012.0 1305.0,1013.7 1305.5,1017.6 1306.0,1018.1 1306.5,1022.8 1307.0,1024.0 1307.5,1028.1 1308.0,1036.2 1308.5,1039.2 1309.0,1046.0 1309.5,1048.4 1310.0,1046.8 1310.5,1050.2 1311.0,1050.0 1311.5,1047.3 1312.0,1048.2 1312.5,1044.2 1313.0,1045.2 1313.5,1041.3 1314.0,1042.2 1314.5,1038.1 1315.0,1039.1 1315.5,1035.1 1316.0,1035.0 1316.5,1034.9 1317.0,1031.2 1317.5,1032.5 1318.0,1028.5 1318.5,1029.8 1319.0,1027.0 1319.5,1025.6 1320.0,1028.4 1320.5,1025.9 1321.0,1027.0 1321.5,1030.0 1322.0,1029.3 1322.5,1033.7 1323.0,1032.6 1323.5,1037.1 1324.0,1036.2 1324.5,1040.5 1325.0,1041.0 1325.5,1040.6 1326.0,1044.3 1326.5,1042.6 1327.0,1046.2 1327.5,1044.8 1328.0,1048.1 1328.5,1046.6 1329.0,1050.3 1329.5,1048.8 1330.0,1051.0 1330.5,1052.0 1331.0,1048.9 1331.5,1051.0 1332.0,1048.1 1332.5,1050.1 1333.0,1047.1 1333.5,1049.3 1334.0,1046.5 1334.5,1048.6 1335.0,1045.6 1335.5,1047.9 1336.0,1046.0 1336.5,1044.0 1337.0,1045.9 1337.5,1042.5 1338.0,1044.3 1338.5,1040.6 1339.0,1042.4 1339.5,1039.1 1340.0,1040.8 1340.5,1037.6 1341.0,1038.0 1341.5,1039.9 1342.0,1038.1 1342.5,1041.6 1343.0,1039.3 1343.5,1043.0 1344.0,1041.0 1344.5,1044.1 1345.0,1042.1 1345.5,1045.4 1346.0,1045.0 1346.5,1044.1 1347.0,1047.2 1347.5,1045.0 1348.0,1048.1 1348.5,1046.1 1349.0,1049.3 1349.5,1047.3 1350.0,1050.1 1350.5,1048.1 1351.0,1051.3 1351.5,1049.3 1352.0,1051.0 1352.5,1052.0 1353.0,1048.9 1353.5,1051.2 1354.0,1048.3 1354.5,1050.5 1355.0,1047.8 1355.5,1050.1 1356.0,1046.9 1356.5,1049.2 1357.0,1046.5 1357.5,1048.5 1358.0,1047.0 1358.5,1042.0 1359.0,1041.0 1359.5,1034.8 1360.0,1033.5 1360.5,1027.4 1361.0,1025.0 1361.5,1023.3 1362.1,1018.2 1362.7,1017.4 1363.2,1012.9 1363.8,1011.5 1364.3,1008.0 1364.8,1007.3 1365.3,1008.0 1365.8,1010.7 1366.4,1011.2 1366.9,1014.7 1367.4,1015.0 1368.0,1018.9 1368.5,1020.0 1369.0,1020.0 1369.5,1023.6 1370.0,1022.5 1370.5,1025.8 1371.0,1026.0 1371.5,1029.0 1372.0,1036.3 1372.5,1038.0 1373.0,1044.0 1373.5,1046.1 1374.0,1044.5 1374.5,1047.9 1375.0,1046.1 1375.5,1049.4 1376.0,1049.0 1376.5,1047.6 1377.0,1050.1 1377.5,1047.6 1378.0,1049.9 1378.5,1047.2 1379.0,1049.7 1379.5,1047.1 1380.0,1049.6 1380.5,1046.7 1381.0,1048.0 1381.5,1049.1 1382.0,1046.2 1382.5,1048.5 1383.0,1045.5 1383.5,1047.9 1384.0,1045.1 1384.5,1047.4 1385.0,1044.1 1385.5,1046.6 1386.0,1045.0 1386.5,1044.2 1387.0,1047.3 1387.5,1045.2 1388.0,1048.1 1388.5,1046.0 1389.0,1049.2 1389.5,1047.3 1390.0,1049.0 1390.5,1050.7 1391.0,1048.8 1391.5,1051.9 1392.0,1049.9 1392.5,1052.7 1393.0,1052.0 1393.5,1049.6 1394.0,1051.2 1394.5,1047.9 1395.0,1049.3 1395.5,1045.7 1396.0,1046.0 1396.5,1046.6 1397.0,1043.1 1397.5,1044.9 1398.0,1043.0 1398.5,1041.6 1399.0,1044.6 1399.5,1042.1 1400.0,1044.5 1400.5,1042.1 1401.0,1044.9 1401.5,1042.4 1402.0,1044.9 1402.5,1042.5 1403.0,1045.1 1403.5,1042.7 1404.0,1045.5 1404.5,1043.0 1405.0,1045.6 1405.5,1043.0 1406.0,1045.6 1406.5,1043.1 1407.0,1046.1 1407.5,1043.5 1408.0,1046.1 1408.5,1043.5 1409.0,1045.0 1409.5,1044.7 1410.0,1040.4 1410.5,1041.5 1411.0,1036.9 1411.5,1037.9 1412.0,1035.0 1412.5,1031.1 1413.0,1030.8 1413.5,1025.7 1414.0,1025.5 1414.5,1020.3 1415.0,1019.9 1415.5,1015.1 1416.0,1014.3 1416.5,1010.0 1417.0,1008.0 1417.5,1008.7 1418.0,1008.0 1418.5,1009.6 1419.0,1013.8 1419.5,1014.5 1420.0,1018.6 1420.5,1019.1 1421.0,1023.6 1421.5,1025.0 1422.0,1025.3 1422.5,1029.1 1423.0,1028.2 1423.5,1031.0 1424.0,1036.3 1424.5,1037.9 1425.0,1044.2 1425.5,1047.0 1426.0,1046.2 1426.5,1049.7 1427.0,1047.5 1427.5,1051.0 1428.0,1048.9 1428.5,1052.5 1429.0,1050.2 1429.5,1053.5 1430.0,1053.0 1430.5,1051.7 1431.0,1054.3 1431.5,1051.7 1432.0,1054.3 1432.5,1051.8 1433.0,1054.6 1433.5,1051.8 1434.0,1054.4 1434.5,1051.9 1435.0,1054.5 1435.5,1051.8 1436.0,1054.5 1436.5,1052.1 1437.0,1054.7 1437.5,1052.2 1438.0,1054.7 1438.5,1051.9 1439.0,1054.8 1439.5,1052.2 1440.0,1053.5 1440.5,1054.8 1441.0,1052.1 1441.5,1054.6 1442.0,1052.2 1442.5,1054.5 1443.0,1052.1 1443.5,1054.6 1444.0,1052.1 1444.5,1054.5 1445.0,1052.1 1445.5,1054.6 1446.0,1051.8 1446.5,1054.5 1447.0,1051.8 1447.5,1054.5 1448.0,1051.9 1448.5,1054.5 1449.0,1051.8 1449.5,1054.4 1450.0,1053.0 1450.5,1051.5 1451.0,1054.0 1451.5,1051.3 1452.0,1053.6 1452.5,1051.1 1453.0,1053.5 1453.5,1050.7 1454.0,1053.2 1454.5,1050.6 1455.0,1052.8 1455.5,1050.0 1456.0,1052.5 1456.5,1049.8 1457.0,1051.0 1457.5,1051.7 1458.0,1048.6 1458.5,1050.7 1459.0,1047.4 1459.5,1049.4 1460.0,1046.2 1460.5,1048.0 1461.0,1044.7 1461.5,1046.9 1462.0,1045.0 1462.5,1042.6 1463.0,1043.7 1463.5,1039.9 1464.0,1041.3 1464.5,1037.4 1465.0,1038.5 1465.5,1034.6 1466.0,1036.2 1466.5,1033.5 1467.0,1032.3 1467.5,1034.8 1468.0,1032.2 1468.5,1033.5 1469.0,1036.8 1469.5,1036.0 1470.0,1040.7 1470.5,1039.8 1471.0,1044.5 1471.5,1043.7 1472.0,1047.0 1472.5,1049.0 1473.0,1046.7 1473.5,1050.0 1474.0,1047.8 1474.5,1051.2 1475.0,1048.9 1475.5,1052.1 1476.0,1050.0 1476.5,1052.0 1477.0,1052.3 1477.5,1049.0 1478.0,1051.0 1478.5,1047.6 1479.0,1049.6 1479.5,1046.0 1480.0,1047.8 1480.5,1044.4 1481.0,1045.0 1481.5,1039.5 1482.0,1029.6 1482.5,1025.1 1483.0,1016.1 1483.5,1010.0 1484.0,1007.2 1484.5,1002.6 1485.0,1000.1 1485.5,995.9 1486.0,993.0 1486.5,989.3 1487.0,986.0 1487.5,982.5 1488.0,982.5 1488.5,982.5 1489.0,982.5 1489.5,982.5 1490.0,986.0 1490.5,989.4 1491.0,993.2 1491.5,996.2 1492.0,1000.0 1492.5,1006.6 1493.0,1011.2 1493.5,1018.8 1494.0,1022.7 1494.5,1030.0" fill="none" stroke="#ff0000" stroke-width="7" stroke-linejoin="round" stroke-linecap="butt"/>
<text x="192.5" y="1069.7" font-family="Liberation Serif, Times New Roman, serif" font-weight="bold" font-size="59" text-anchor="end">0</text>
<text x="193" y="604.1" font-family="Liberation Serif, Times New Roman, serif" font-weight="bold" font-size="59" text-anchor="end">15k</text>
<text x="194" y="138.4" font-family="Liberation Serif, Times New Roman, serif" font-weight="bold" font-size="59" text-anchor="end">30k</text>
<text x="342.0" y="1165" font-family="Liberation Serif, Times New Roman, serif" font-weight="bold" font-size="59" text-anchor="middle">10</text>
<text x="572.5" y="1165" font-family="Liberation Serif, Times New Roman, serif" font-weight="bold" font-size="59" text-anchor="middle">20</text>
<text x="803.0" y="1165" font-family="Liberation Serif, Times New Roman, serif" font-weight="bold" font-size="59" text-anchor="middle">30</text>
<text x="1033.5" y="1165" font-family="Liberation Serif, Times New Roman, serif" font-weight="bold" font-size="59" text-anchor="middle">40</text>
<text x="1264.0" y="1165" font-family="Liberation Serif, Times New Roman, serif" font-weight="bold" font-size="59" text-anchor="middle">50</text>
<text x="1494.5" y="1165" font-family="Liberation Serif, Times New Roman, serif" font-weight="bold" font-size="59" text-anchor="middle">60</text>
<text x="498" y="1248.4" font-family="Liberation Serif, Times New Roman, serif" font-weight="bold" font-size="78" textLength="575" lengthAdjust="spacing">Diffraction Angle</text>
<text x="1091.5" y="1250.4" font-family="Liberation Serif, Times New Roman, serif" font-size="78">(</text>
<text x="1118" y="1248.4" font-family="Liberation Serif, Times New Roman, serif" font-weight="bold" font-size="78">2</text>
<text transform="translate(1154.5,1251.5) scale(1.12,1)" x="0" y="0" font-family="Liberation Serif, Times New Roman, serif" font-size="81">θ</text>
<text x="1196" y="1250.4" font-family="Liberation Serif, Times New Roman, serif" font-size="78">)</text>
<text transform="translate(83.3,795) rotate(-90)" x="0" y="0" font-family="Liberation Serif, Times New Roman, serif" font-weight="bold" font-size="78" textLength="483" lengthAdjust="spacing">Intensity (cps)</text>
<rect x="943" y="76.3" width="125" height="7.2" fill="#ff0000"/>
<text x="1077" y="99" font-family="Liberation Serif, Times New Roman, serif" font-size="55">(</text>
<text x="1097" y="99" font-family="Liberation Serif, Times New Roman, serif" font-weight="bold" font-size="55" textLength="171" lengthAdjust="spacingAndGlyphs">MAPbI</text>
<text x="1267" y="112.7" font-family="Liberation Serif, Times New Roman, serif" font-weight="bold" font-size="36">3</text>
<text x="1285.5" y="99" font-family="Liberation Serif, Times New Roman, serif" font-weight="bold" font-size="55" textLength="169" lengthAdjust="spacingAndGlyphs">Crystal</text>
<text x="1454" y="99" font-family="Liberation Serif, Times New Roman, serif" font-size="55">)</text>
<text transform="translate(619.6,467.6) rotate(-90)" x="0" y="0" font-family="Liberation Serif, Times New Roman, serif" font-weight="bold" font-size="53" fill="#0000ff" textLength="121.2" lengthAdjust="spacing">(110)</text>
<text transform="translate(743,171.70000000000002) rotate(-90)" x="0" y="0" font-family="Liberation Serif, Times New Roman, serif" font-weight="bold" font-size="53" fill="#0000ff" textLength="121.2" lengthAdjust="spacing">(202)</text>
<text transform="translate(738.5,606.0999999999999) rotate(-90)" x="0" y="0" font-family="Liberation Serif, Times New Roman, serif" font-weight="bold" font-size="53" fill="#0000ff" textLength="121.2" lengthAdjust="spacing">(004)</text>
<text transform="translate(799.5,635.3) rotate(-90)" x="0" y="0" font-family="Liberation Serif, Times New Roman, serif" font-weight="bold" font-size="53" fill="#0000ff" textLength="121.2" lengthAdjust="spacing">(220)</text>
<text transform="translate(883.8,733.0) rotate(-90)" x="0" y="0" font-family="Liberation Serif, Times New Roman, serif" font-weight="bold" font-size="53" fill="#0000ff" textLength="121.2" lengthAdjust="spacing">(310)</text>
<text transform="translate(1110.9,904.0999999999999) rotate(-90)" x="0" y="0" font-family="Liberation Serif, Times New Roman, serif" font-weight="bold" font-size="53" fill="#0000ff" textLength="121.2" lengthAdjust="spacing">(314)</text>
<text transform="translate(1320.4,980.0999999999999) rotate(-90)" x="0" y="0" font-family="Liberation Serif, Times New Roman, serif" font-weight="bold" font-size="53" fill="#0000ff" textLength="121.2" lengthAdjust="spacing">(404)</text></svg>
</body></html>
